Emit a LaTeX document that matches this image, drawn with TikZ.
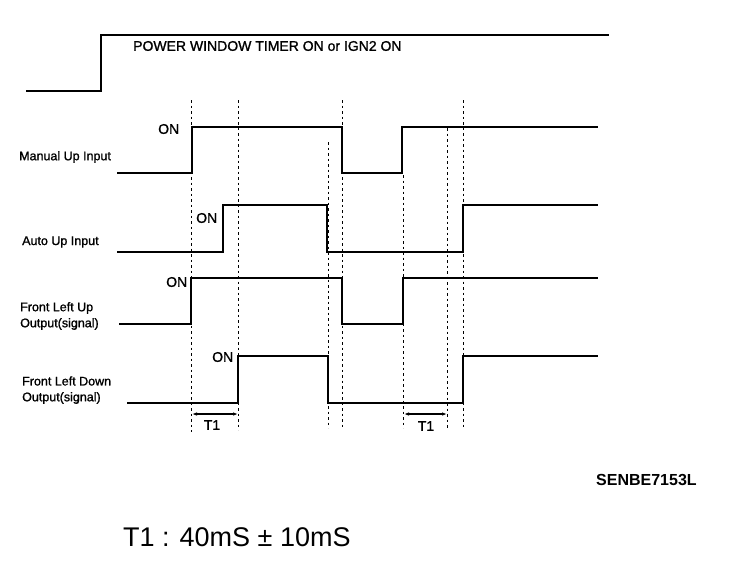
\documentclass[tikz,border=0pt]{standalone}
\usepackage{fontspec}
\setmainfont{Liberation Sans}
\newfontfamily\heavyfont[FakeBold=1.2]{Liberation Sans}
\usetikzlibrary{arrows.meta}
\begin{document}
\begin{tikzpicture}[x=1pt,y=-1pt,
  sig/.style={line width=2.2pt,line cap=rect,line join=miter},
  guide/.style={line width=0.7pt,dash pattern=on 2.5pt off 3pt},
  lbl/.style={inner sep=0pt,anchor=west,font=\heavyfont\fontsize{12.5}{13}\selectfont},
  onl/.style={inner sep=0pt,anchor=west,font=\heavyfont\fontsize{14}{14}\selectfont},
  tarrow/.style={line width=1.2pt,{Latex[length=5pt,width=3.5pt]}-{Latex[length=5pt,width=3.5pt]}}]
\useasboundingbox (0,0) rectangle (736,582);
% power line
\draw[sig] (27,91) -- (101,91) -- (101,35) -- (608,35);
\node[lbl,font=\heavyfont\fontsize{14}{14}\selectfont] (pw) at (133,46) {POWER WINDOW TIMER ON or IGN2 ON};
% guide lines
\draw[guide] (191,100) -- (191,432);
\draw[guide] (238,100) -- (238,430);
\draw[guide] (328,142) -- (328,428);
\draw[guide] (342,100) -- (342,428);
\draw[guide] (403,175) -- (403,428);
\draw[guide] (447,128) -- (447,428);
\draw[guide] (463,100) -- (463,428);
% manual up input
\node[lbl] (mu) at (19,157) {Manual Up Input};
\draw[sig] (118,173) -- (192,173) -- (192,127) -- (342,127) -- (342,173) -- (402,173) -- (402,127) -- (597,127);
\node[onl] (on1) at (158,129) {ON};
% auto up input
\node[lbl] (au) at (22,242) {Auto Up Input};
\draw[sig] (118,252) -- (223,252) -- (223,205) -- (327,205) -- (327,252) -- (463,252) -- (463,205) -- (597,205);
\node[onl] (on2) at (196,218) {ON};
% front left up
\node[lbl] (flu1) at (20,308) {Front Left Up};
\node[lbl] (flu2) at (20,324) {Output(signal)};
\draw[sig] (120,324) -- (191,324) -- (191,278) -- (342,278) -- (342,324) -- (403,324) -- (403,278) -- (597,278);
\node[onl] (on3) at (166,282) {ON};
% front left down
\node[lbl] (fld1) at (22,381) {Front Left Down};
\node[lbl] (fld2) at (22,398) {Output(signal)};
\draw[sig] (128,403) -- (238,403) -- (238,356) -- (328,356) -- (328,403) -- (463,403) -- (463,356) -- (597,356);
\node[onl] (on4) at (212,357) {ON};
% T1 arrows
\coordinate (a1) at (192,414);
\coordinate (b1) at (238,414);
\draw[tarrow] (a1) -- (b1);
\node[onl,anchor=center] (t1a) at (212,425) {T1};
\coordinate (a2) at (404,414);
\coordinate (b2) at (447,414);
\draw[tarrow] (a2) -- (b2);
\node[onl,anchor=center] (t1b) at (426,426) {T1};
% code
\node[lbl,font=\bfseries\fontsize{16}{16}\selectfont] (code) at (596,480) {SENBE7153L};
\node[lbl,font=\fontsize{27}{27}\selectfont] (t1def) at (123,537) {T1 : 40mS ± 10mS};
\end{tikzpicture}
\end{document}
